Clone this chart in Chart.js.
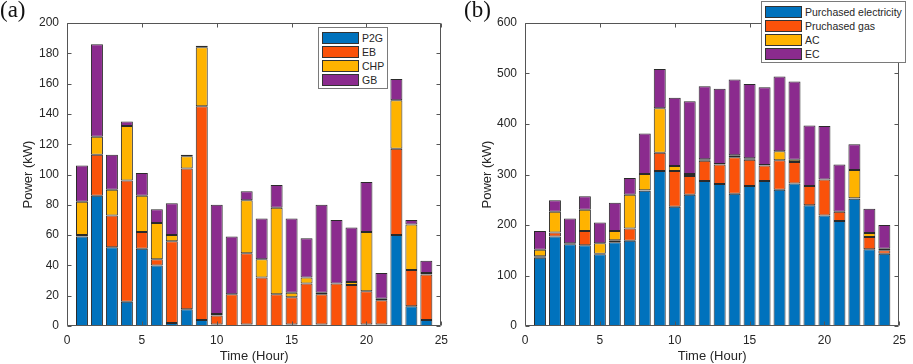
<!DOCTYPE html>
<html>
<head>
<meta charset="utf-8">
<script src="https://cdn.jsdelivr.net/npm/chart.js@4"></script>
<style>
  body { margin: 0; background: #fff; width: 913px; height: 364px; position: relative; overflow: hidden; }
  .panel { position: absolute; top: 0; height: 364px; }
  .tag { position: absolute; top: -3px; font: 23px "Liberation Serif", "Times New Roman", serif; color: #111; }
  .legend { position: absolute; background: #fff; border: 1px solid #7a7a7a; box-sizing: border-box;
            font: 10.5px "Liberation Sans", Arial, sans-serif; color: #262626; }
  .legend .row { position: absolute; left: 3px; height: 12px; display: flex; align-items: center; white-space: nowrap; }
  .legend .sw { width: 35px; height: 10px; border: 1px solid #333; margin-right: 3px; }
</style>
</head>
<body>
<div class="panel" style="left:0;width:455px"><canvas id="chartA"></canvas></div>
<div class="panel" style="left:455px;width:458px"><canvas id="chartB"></canvas></div>
<div class="tag" style="left:0">(a)</div>
<div class="tag" style="left:464px">(b)</div>
<div class="legend" id="legA" style="left:318px;top:27px;width:70px;height:62px"></div>
<div class="legend" id="legB" style="left:761px;top:1px;width:145px;height:62px"></div>
<script>
// hours 1..24
const hours = [1,2,3,4,5,6,7,8,9,10,11,12,13,14,15,16,17,18,19,20,21,22,23,24];

// (a) heat/gas conversion units, kW
const p2g = [59,86,52,16,51,40,2,11,4,1,0,1,0,0,1,0,1,0,0,1,1,60,13,4];
const eb  = [1,27,21,80,11,4,54,93,141,6,21,47,32,21,18,28,20,28,27,22,16,57,24,30];
const chp = [22,12,17,36,24,24,4,8,39,1,0,35,12,57,3,4,1,0,2,39,1,32,30,1];
const gb  = [24,61,23,3,15,9,21,1,1,72,38,6,27,15,49,26,58,42,36,33,17,14,3,8];

// (b) purchases and cooling, kW
const purchasedElec = [135,177,162,160,142,166,169,268,307,236,260,287,281,262,277,287,270,282,239,219,208,252,152,143];
const purchasedGas  = [3,8,2,28,1,4,24,1,36,71,37,40,39,72,52,31,58,43,38,71,18,1,24,7];
const ac            = [13,41,0,42,21,18,67,32,88,10,4,3,1,4,3,1,18,4,0,0,0,56,8,3];
const ec            = [37,23,49,27,41,56,33,80,78,135,144,145,149,150,147,154,148,155,120,106,94,51,48,47];

const labelsA = ['P2G', 'EB', 'CHP', 'GB'];
const labelsB = ['Purchased electricity', 'Pruchased gas', 'AC', 'EC'];
const colors = ['#0072BD', '#FA520A', '#FFB300', '#8B2B8E'];

const xTicks = [0, 5, 10, 15, 20, 25];

const font = '"Liberation Sans", Arial, sans-serif';
const textColor = '#262626';

// box around plot + inward ticks on all four sides (matlab style)
const boxPlugin = {
  id: 'frameTicks',
  afterDraw(chart) {
    const ctx = chart.ctx, a = chart.chartArea, sx = chart.scales.x, sy = chart.scales.y;
    ctx.save();
    ctx.strokeStyle = '#555';
    ctx.lineWidth = 1;
    const L = Math.round(a.left) + 0.5, R = Math.round(a.right) - 0.5;
    const T = Math.round(a.top) + 0.5, B = Math.round(a.bottom) - 0.5;
    ctx.beginPath();
    ctx.rect(L, T, R - L, B - T);
    xTicks.forEach(v => {
      const x = Math.round(sx.getPixelForValue(v)) + 0.5;
      ctx.moveTo(x, B); ctx.lineTo(x, B - 4);
      ctx.moveTo(x, T); ctx.lineTo(x, T + 4);
    });
    sy.ticks.forEach(t => {
      const y = Math.round(sy.getPixelForValue(t.value)) + 0.5;
      ctx.moveTo(L, y); ctx.lineTo(L + 4, y);
      ctx.moveTo(R, y); ctx.lineTo(R - 4, y);
    });
    ctx.stroke();
    ctx.restore();
  }
};

function makeChart(id, labels, series, yMax, yStep, yAxisWidth, titlePad, rightPad, width) {
  const canvas = document.getElementById(id);
  canvas.width = width; canvas.height = 364;
  canvas.style.width = width + 'px'; canvas.style.height = '364px';
  return new Chart(canvas, {
    type: 'bar',
    data: {
      datasets: series.map((vals, i) => ({
        label: labels[i],
        data: hours.map((h, k) => ({ x: h, y: vals[k] })),
        backgroundColor: colors[i],
        borderColor: '#2a2a2a',
        borderWidth: 1,
        borderSkipped: false,
        barPercentage: 0.8,
        categoryPercentage: 1.0
      }))
    },
    options: {
      responsive: false,
      animation: false,
      layout: { padding: { top: 23, right: rightPad, left: 0, bottom: 0 } },
      plugins: { legend: { display: false }, tooltip: { enabled: false } },
      scales: {
        x: {
          type: 'linear', stacked: true, min: 0, max: 25, offset: false,
          ticks: { stepSize: 5, color: textColor, font: { family: font, size: 12 }, padding: 7, maxRotation: 0 },
          afterFit: s => { s.height = 38; },
          grid: { display: false, drawTicks: false, offset: false },
          border: { display: false },
          title: { display: true, text: 'Time (Hour)', color: textColor,
                   font: { family: font, size: 13 }, padding: { top: 0, bottom: 0 } }
        },
        y: {
          stacked: true, min: 0, max: yMax,
          afterFit: s => { s.width = yAxisWidth; },
          grid: { display: false, drawTicks: false },
          border: { display: false },
          ticks: { stepSize: yStep, color: textColor, font: { family: font, size: 12 }, padding: 8 },
          title: { display: true, text: 'Power (kW)', color: textColor,
                   font: { family: font, size: 13 }, padding: { top: titlePad, bottom: 0 } }
        }
      }
    },
    plugins: [boxPlugin]
  });
}

makeChart('chartA', labelsA, [p2g, eb, chp, gb], 200, 20, 67, 21, 6, 455);
makeChart('chartB', labelsB, [purchasedElec, purchasedGas, ac, ec], 600, 100, 70, 25, 5, 458);

function buildLegend(id, labels, rowTops) {
  const box = document.getElementById(id);
  labels.forEach((lab, i) => {
    const row = document.createElement('div');
    row.className = 'row';
    row.style.top = rowTops[i] + 'px';
    const sw = document.createElement('div');
    sw.className = 'sw';
    sw.style.background = colors[i];
    const tx = document.createElement('span');
    tx.textContent = lab;
    row.appendChild(sw); row.appendChild(tx);
    box.appendChild(row);
  });
}
buildLegend('legA', labelsA, [4, 18, 32, 46]);
buildLegend('legB', labelsB, [4, 18, 32, 46]);
</script>
</body>
</html>
